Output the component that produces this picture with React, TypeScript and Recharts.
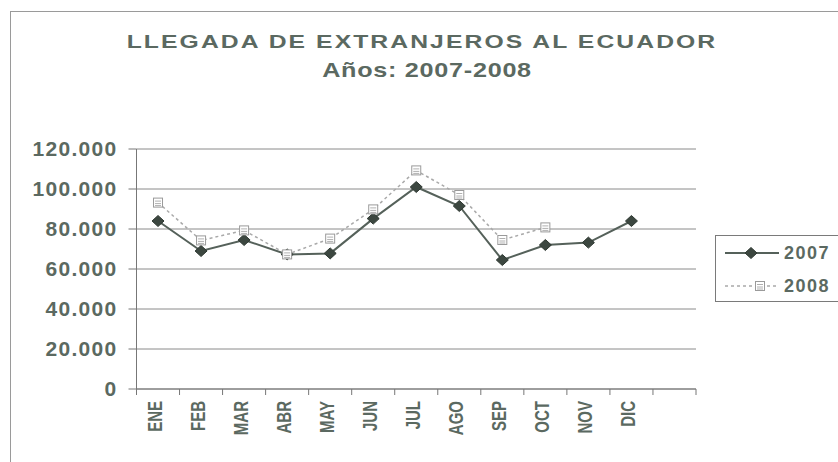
import React from 'react';
import { LineChart, Line, XAxis, YAxis, CartesianGrid, Legend } from 'recharts';

const months = ['ENE', 'FEB', 'MAR', 'ABR', 'MAY', 'JUN', 'JUL', 'AGO', 'SEP', 'OCT', 'NOV', 'DIC', ''];
const values2007 = [84000, 69000, 74500, 67300, 67800, 85200, 101000, 91500, 64500, 72000, 73200, 84000, null];
const values2008 = [93200, 74300, 79300, 67300, 75200, 89800, 109300, 97000, 74500, 80800, null, null, null];
const yTicks = [0, 20000, 40000, 60000, 80000, 100000, 120000];
const seriesNames = ['2007', '2008'];
const titleText = 'LLEGADA DE EXTRANJEROS AL ECUADOR';
const subtitleText = 'Años: 2007-2008';

const data = months.map((m, i) => ({ m, a: values2007[i], b: values2008[i] }));

const FONT = '"Liberation Sans", Arial, Helvetica, sans-serif';
const TEXT = '#5b6961';
const AXIS = '#777777';
const C2007 = '#55615a';
const C2008 = '#a9a9a9';

const fmt = (v: number) => String(v).replace(/\B(?=(\d{3})+(?!\d))/g, '.');

const Diamond = ({ cx, cy }: { cx: number; cy: number }) => (
  <path
    d={`M${cx},${cy - 5.5} L${cx + 6},${cy} L${cx},${cy + 5.5} L${cx - 6},${cy} Z`}
    fill="#3c4740"
    stroke="#2f3932"
    strokeWidth={1}
  />
);

const Square = ({ cx, cy }: { cx: number; cy: number }) => (
  <g>
    <rect x={cx - 4.5} y={cy - 4.5} width={9} height={9} fill="#ffffff" stroke="#9a9a9a" strokeWidth={1} />
    <line x1={cx - 3} y1={cy - 1.5} x2={cx + 3} y2={cy - 1.5} stroke="#b0b0b0" />
    <line x1={cx - 3} y1={cy + 1} x2={cx + 3} y2={cy + 1} stroke="#b0b0b0" />
    <line x1={cx - 3} y1={cy + 3} x2={cx + 3} y2={cy + 3} stroke="#b0b0b0" />
  </g>
);

const dot2007 = (p: any) =>
  p.cy == null || p.value == null ? <g key={`a${p.index}`} /> : <Diamond key={`a${p.index}`} cx={p.cx} cy={p.cy} />;
const dot2008 = (p: any) =>
  p.cy == null || p.value == null ? <g key={`b${p.index}`} /> : <Square key={`b${p.index}`} cx={p.cx} cy={p.cy} />;

const XTick = (props: any) => {
  const { x, y, payload, index, visibleTicksCount } = props;
  const off = payload && payload.offset != null ? payload.offset : 0;
  const last = visibleTicksCount != null ? index === visibleTicksCount - 1 : index === months.length - 1;
  const ty = y + 12;
  const tx = x - 3;
  return (
    <g>
      <line x1={x - off} y1={y} x2={x - off} y2={y + 6} stroke={AXIS} strokeWidth={1} />
      {last && <line x1={x + off} y1={y} x2={x + off} y2={y + 6} stroke={AXIS} strokeWidth={1} />}
      <text
        x={0}
        y={0}
        dy="0.36em"
        transform={`translate(${tx},${ty}) rotate(-90) scale(1,1.3)`}
        textAnchor="end"
        fill={TEXT}
        fontFamily={FONT}
        fontWeight="bold"
        fontSize={15}
      >
        {payload.value}
      </text>
    </g>
  );
};

const LegendContent = (props: any) => {
  const payload = props.payload || [];
  return (
    <div
      style={{
        position: 'relative',
        width: 126,
        height: 67,
        border: '1px solid #7a7a7a',
        boxSizing: 'border-box',
        background: '#ffffff',
        fontFamily: FONT,
        fontWeight: 'bold',
        fontSize: 18,
        letterSpacing: 1.5,
        color: TEXT,
      }}
    >
      {payload.map((entry: any, i: number) => (
        <div key={i} style={{ position: 'absolute', left: 9, top: i === 0 ? 6 : 39, height: 22, display: 'flex', alignItems: 'center' }}>
          <svg width={56} height={22} style={{ display: 'block' }}>
            {i === 0 ? (
              <>
                <line x1={0} y1={11} x2={54} y2={11} stroke={C2007} strokeWidth={2} />
                <Diamond cx={26} cy={11} />
              </>
            ) : (
              <>
                <line x1={0} y1={11} x2={54} y2={11} stroke={C2008} strokeWidth={1.5} strokeDasharray="3 3" />
                <Square cx={35} cy={11} />
              </>
            )}
          </svg>
          <span style={{ marginLeft: 3, lineHeight: '22px' }}>{entry.value}</span>
        </div>
      ))}
    </div>
  );
};

export default function App() {
  return (
    <div style={{ position: 'absolute', left: 0, top: 0, width: 838, height: 462, background: '#ffffff', overflow: 'hidden', fontFamily: FONT }}>
      <div style={{ position: 'absolute', left: 10, top: 11, width: 840, height: 460, borderLeft: '1px solid #9a9a9a', borderTop: '1px solid #9a9a9a' }} />
      <div
        style={{
          position: 'absolute',
          left: 422,
          top: 32,
          transform: 'translateX(-50%) scaleX(1.3)',
          fontSize: 19,
          lineHeight: '19px',
          fontWeight: 'bold',
          letterSpacing: 1.6,
          color: TEXT,
          whiteSpace: 'nowrap',
        }}
      >
        {titleText}
      </div>
      <div
        style={{
          position: 'absolute',
          left: 427,
          top: 59,
          transform: 'translateX(-50%) scaleX(1.2)',
          fontSize: 21,
          lineHeight: '21px',
          fontWeight: 'bold',
          letterSpacing: 0.6,
          color: TEXT,
          whiteSpace: 'nowrap',
        }}
      >
        {subtitleText}
      </div>
      <div style={{ position: 'absolute', left: 0, top: 0 }}>
        <LineChart width={838} height={462} data={data} margin={{ top: 149, right: 142, bottom: 13, left: 0 }}>
          <CartesianGrid vertical={false} stroke="#8a8a8a" strokeWidth={1} />
          <XAxis
            dataKey="m"
            scale="band"
            interval={0}
            tickLine={false}
            tickSize={0}
            tickMargin={0}
            height={60}
            axisLine={{ stroke: AXIS, strokeWidth: 1 }}
            tick={<XTick />}
          />
          <YAxis
            domain={[0, 120000]}
            ticks={yTicks}
            width={136.5}
            tickFormatter={fmt}
            tickSize={8}
            tickMargin={11}
            axisLine={{ stroke: AXIS, strokeWidth: 1 }}
            tickLine={{ stroke: AXIS, strokeWidth: 1 }}
            tick={{ fill: TEXT, fontSize: 21, fontWeight: 'bold', fontFamily: FONT, letterSpacing: 1.3 }}
            interval={0}
          />
          <YAxis
            yAxisId="frame"
            orientation="right"
            domain={[0, 120000]}
            width={0}
            tick={false}
            tickLine={false}
            axisLine={{ stroke: '#a0a0a0', strokeWidth: 1, strokeDasharray: '2 2' }}
          />
          <Legend
            layout="vertical"
            align="center"
            verticalAlign="middle"
            content={<LegendContent />}
            wrapperStyle={{ left: 715, top: 235, width: 126, height: 67 }}
          />
          <Line
            name={seriesNames[0]}
            dataKey="a"
            stroke={C2007}
            strokeWidth={2}
            dot={dot2007}
            activeDot={false}
            isAnimationActive={false}
          />
          <Line
            name={seriesNames[1]}
            dataKey="b"
            stroke={C2008}
            strokeWidth={1.5}
            strokeDasharray="3 3"
            dot={dot2008}
            activeDot={false}
            isAnimationActive={false}
          />
        </LineChart>
      </div>
    </div>
  );
}
